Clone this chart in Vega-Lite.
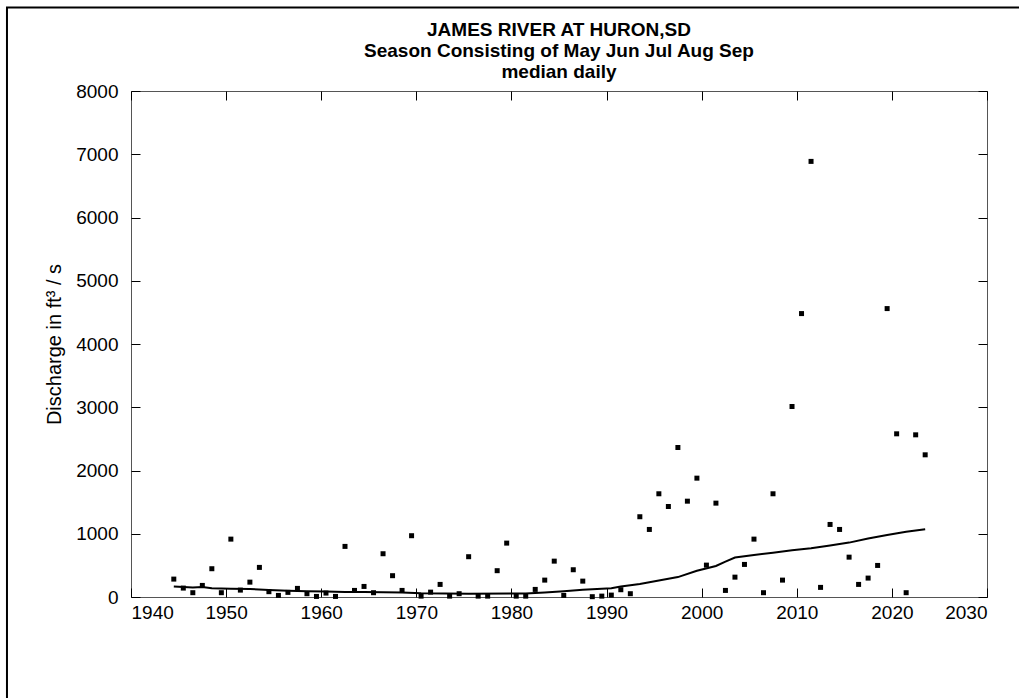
{
  "$schema": "https://vega.github.io/schema/vega-lite/v6.json",
  "autosize": {"type": "none"},
  "width": 856,
  "height": 506,
  "padding": {"left": 131, "top": 91, "right": 32, "bottom": 101},
  "background": "white",
  "title": {
    "text": ["JAMES RIVER AT HURON,SD", "Season Consisting of May Jun Jul Aug Sep", "median daily"],
    "anchor": "middle",
    "font": "Liberation Sans",
    "fontSize": 19,
    "fontWeight": "bold",
    "color": "black",
    "lineHeight": 21,
    "offset": -75
  },
  "config": {
    "view": {"stroke": "#555555", "strokeWidth": 1},
    "axis": {
      "grid": false,
      "domain": false,
      "tickColor": "black",
      "tickWidth": 1,
      "tickSize": -9,
      "labelFont": "Liberation Sans",
      "labelFontSize": 19,
      "labelColor": "black",
      "titleFont": "Liberation Sans",
      "titleFontSize": 20,
      "titleFontWeight": "normal",
      "titleColor": "black"
    }
  },
  "datasets": {
    "seasonal": [
      {"t": 1944.5, "q": 283}, {"t": 1945.5, "q": 141}, {"t": 1946.5, "q": 68}, {"t": 1947.5, "q": 183},
      {"t": 1948.5, "q": 447}, {"t": 1949.5, "q": 68}, {"t": 1950.5, "q": 915}, {"t": 1951.5, "q": 109},
      {"t": 1952.5, "q": 235}, {"t": 1953.5, "q": 468}, {"t": 1954.5, "q": 84}, {"t": 1955.5, "q": 25},
      {"t": 1956.5, "q": 73}, {"t": 1957.5, "q": 136}, {"t": 1958.5, "q": 52}, {"t": 1959.5, "q": 9},
      {"t": 1960.5, "q": 62}, {"t": 1961.5, "q": 9}, {"t": 1962.5, "q": 800}, {"t": 1963.5, "q": 104},
      {"t": 1964.5, "q": 167}, {"t": 1965.5, "q": 68}, {"t": 1966.5, "q": 684}, {"t": 1967.5, "q": 337},
      {"t": 1968.5, "q": 104}, {"t": 1969.5, "q": 969}, {"t": 1970.5, "q": 14}, {"t": 1971.5, "q": 77},
      {"t": 1972.5, "q": 199}, {"t": 1973.5, "q": 14}, {"t": 1974.5, "q": 52}, {"t": 1975.5, "q": 637},
      {"t": 1976.5, "q": 14}, {"t": 1977.5, "q": 14}, {"t": 1978.5, "q": 416}, {"t": 1979.5, "q": 852},
      {"t": 1980.5, "q": 14}, {"t": 1981.5, "q": 14}, {"t": 1982.5, "q": 120}, {"t": 1983.5, "q": 267},
      {"t": 1984.5, "q": 567}, {"t": 1985.5, "q": 25}, {"t": 1986.5, "q": 431}, {"t": 1987.5, "q": 251},
      {"t": 1988.5, "q": 5}, {"t": 1989.5, "q": 14}, {"t": 1990.5, "q": 30}, {"t": 1991.5, "q": 115},
      {"t": 1992.5, "q": 52}, {"t": 1993.5, "q": 1269}, {"t": 1994.5, "q": 1068}, {"t": 1995.5, "q": 1632},
      {"t": 1996.5, "q": 1431}, {"t": 1997.5, "q": 2364}, {"t": 1998.5, "q": 1515}, {"t": 1999.5, "q": 1879},
      {"t": 2000.5, "q": 504}, {"t": 2001.5, "q": 1484}, {"t": 2002.5, "q": 104}, {"t": 2003.5, "q": 314},
      {"t": 2004.5, "q": 515}, {"t": 2005.5, "q": 915}, {"t": 2006.5, "q": 68}, {"t": 2007.5, "q": 1632},
      {"t": 2008.5, "q": 267}, {"t": 2009.5, "q": 3012}, {"t": 2010.5, "q": 4481}, {"t": 2011.5, "q": 6887},
      {"t": 2012.5, "q": 152}, {"t": 2013.5, "q": 1147}, {"t": 2014.5, "q": 1068}, {"t": 2015.5, "q": 630},
      {"t": 2016.5, "q": 199}, {"t": 2017.5, "q": 299}, {"t": 2018.5, "q": 499}, {"t": 2019.5, "q": 4560},
      {"t": 2020.5, "q": 2580}, {"t": 2021.5, "q": 68}, {"t": 2022.5, "q": 2564}, {"t": 2023.5, "q": 2248}
    ],
    "smooth": [
      {"t": 1944.5, "q": 165}, {"t": 1946.5, "q": 150}, {"t": 1947.5, "q": 158}, {"t": 1948.5, "q": 140},
      {"t": 1950.5, "q": 130}, {"t": 1952.5, "q": 125}, {"t": 1954.5, "q": 112}, {"t": 1956.5, "q": 100},
      {"t": 1958.5, "q": 92}, {"t": 1960.5, "q": 85}, {"t": 1962.5, "q": 80}, {"t": 1964.5, "q": 78},
      {"t": 1968.5, "q": 72}, {"t": 1970.5, "q": 58}, {"t": 1975.5, "q": 53}, {"t": 1981.5, "q": 55},
      {"t": 1983.5, "q": 70}, {"t": 1985.5, "q": 90}, {"t": 1987.5, "q": 115}, {"t": 1989.5, "q": 130},
      {"t": 1990.5, "q": 140}, {"t": 1991.5, "q": 165}, {"t": 1993.5, "q": 205}, {"t": 1995.5, "q": 260},
      {"t": 1997.5, "q": 315}, {"t": 1999.5, "q": 415}, {"t": 2001.5, "q": 490}, {"t": 2002.5, "q": 560},
      {"t": 2003.5, "q": 625}, {"t": 2005.5, "q": 665}, {"t": 2007.5, "q": 700}, {"t": 2009.5, "q": 740},
      {"t": 2011.5, "q": 770}, {"t": 2013.5, "q": 815}, {"t": 2015.5, "q": 860}, {"t": 2017.5, "q": 925},
      {"t": 2019.5, "q": 980}, {"t": 2021.5, "q": 1030}, {"t": 2023.5, "q": 1070}
    ]
  },
  "layer": [
    {
      "data": {"name": "seasonal"},
      "mark": {"type": "point", "shape": "square", "filled": true, "size": 25, "color": "black", "opacity": 1},
      "encoding": {
        "x": {
          "field": "t", "type": "quantitative",
          "scale": {"domain": [1940, 2030], "nice": false, "zero": false},
          "axis": {"orient": "bottom", "title": null, "values": [1940, 1950, 1960, 1970, 1980, 1990, 2000, 2010, 2020, 2030], "format": "d", "labelPadding": 15}
        },
        "y": {
          "field": "q", "type": "quantitative",
          "scale": {"domain": [0, 8000], "nice": false},
          "axis": {"orient": "left", "title": "Discharge in ft³ / s", "values": [0, 1000, 2000, 3000, 4000, 5000, 6000, 7000, 8000], "format": "d", "labelPadding": 22, "titlePadding": 11}
        }
      }
    },
    {
      "data": {"name": "smooth"},
      "mark": {"type": "line", "color": "black", "strokeWidth": 2},
      "encoding": {
        "x": {"field": "t", "type": "quantitative", "axis": {"orient": "top", "title": null, "labels": false, "values": [1940, 1950, 1960, 1970, 1980, 1990, 2000, 2010, 2020, 2030]}},
        "y": {"field": "q", "type": "quantitative", "axis": {"orient": "right", "title": null, "labels": false, "values": [0, 1000, 2000, 3000, 4000, 5000, 6000, 7000, 8000]}}
      }
    },
    {
      "data": {"values": [{}]},
      "mark": {"type": "rect", "fill": "transparent", "stroke": "black", "strokeWidth": 2, "clip": false},
      "encoding": {
        "x": {"datum": 1926.96, "type": "quantitative", "axis": null},
        "x2": {"datum": 2060},
        "y": {"datum": 9320, "type": "quantitative", "axis": null},
        "y2": {"datum": -3000}
      }
    }
  ],
  "resolve": {"axis": {"x": "independent", "y": "independent"}}
}
